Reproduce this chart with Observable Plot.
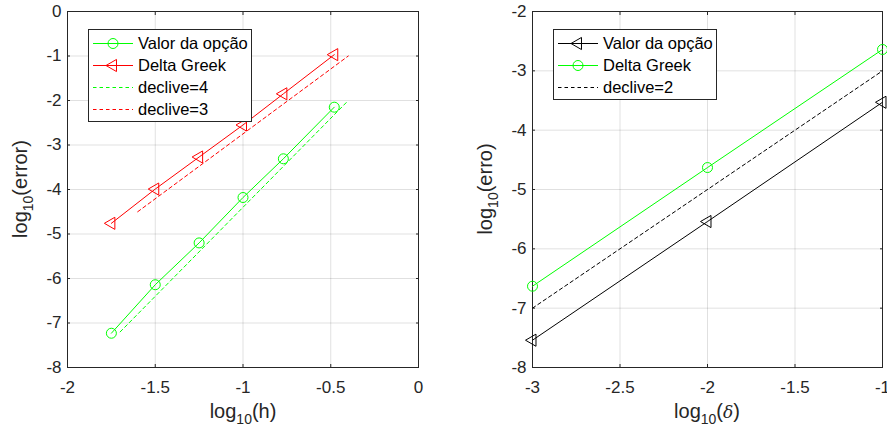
<!DOCTYPE html>
<html>
<head>
<meta charset="utf-8">
<script src="https://cdn.jsdelivr.net/npm/d3@7"></script>
<script src="https://cdn.jsdelivr.net/npm/@observablehq/plot@0.6"></script>
<style>
  html, body { margin: 0; padding: 0; background: #fff; }
  #wrap { display: flex; width: 887px; height: 430px; overflow: hidden; position: relative; }
  .panel { position: relative; }
  .legend { position: absolute; }
</style>
</head>
<body>
<div id="wrap"></div>
<script>
// ---------- Data ----------
// Left panel: log10(h) vs log10(error)
const hX = [-1.75, -1.5, -1.25, -1.0, -0.77, -0.48];
const valorOpcaoH = [-7.23, -6.14, -5.2, -4.18, -3.31, -2.15];
const deltaGreekH = [-4.76, -3.99, -3.27, -2.55, -1.85, -0.97];
const slope4X = [-1.7, -0.4];
const slope4Y = [-7.2, -2.0];
const slope3X = [-1.6, -0.4];
const slope3Y = [-4.5, -1.0];
const leftXTicks = [-2, -1.5, -1, -0.5, 0];
const leftYTicks = [-8, -7, -6, -5, -4, -3, -2, -1, 0];

// Right panel: log10(delta) vs log10(erro)
const dX = [-3, -2, -1];
const valorOpcaoD = [-7.54, -5.54, -3.53];
const deltaGreekD = [-6.63, -4.63, -2.64];
const slope2X = [-3, -1];
const slope2Y = [-7, -3];
const rightXTicks = [-3, -2.5, -2, -1.5, -1];
const rightYTicks = [-8, -7, -6, -5, -4, -3, -2];

const GREEN = "#00ff00", RED = "#ff0000", BLACK = "#000000";
const FONT = "'Liberation Sans', Arial, Helvetica, sans-serif";
const TICK_FONT = 17;
const toRows = (xs, ys) => xs.map((x, i) => ({x, y: ys[i]}));

function fmt(d) { return d === 0 ? "0" : String(d).replace("−", "-"); }

function axesMarks(xTicks, yTicks) {
  return [
    Plot.gridX(xTicks, {stroke: "#000", strokeOpacity: 0.12}),
    Plot.gridY(yTicks, {stroke: "#000", strokeOpacity: 0.12}),
    Plot.axisX(xTicks, {anchor: "bottom", tickSize: -3, tickPadding: 16, tickFormat: fmt, label: null, stroke: "#262626", fill: "#262626", fontSize: TICK_FONT}),
    Plot.axisX(xTicks, {anchor: "top", tickSize: -3, tickFormat: () => "", label: null, stroke: "#262626"}),
    Plot.axisY(yTicks, {anchor: "left", tickSize: -3, tickPadding: 9, tickFormat: fmt, label: null, stroke: "#262626", fill: "#262626", fontSize: TICK_FONT}),
    Plot.axisY(yTicks, {anchor: "right", tickSize: -3, tickFormat: () => "", label: null, stroke: "#262626"}),
    Plot.frame({stroke: "#262626", strokeWidth: 1})
  ];
}

function styleTicks(svg) {
  d3.select(svg).selectAll('g[aria-label$="tick label"]')
    .attr("font-size", TICK_FONT)
    .style("font-size", TICK_FONT + "px")
    .style("font-family", FONT);
}

function addLabel(svg, x, y, base, sub, tail, rotate, italicTail) {
  const t = d3.select(svg).append("text")
    .attr("transform", `translate(${x},${y})` + (rotate ? " rotate(-90)" : ""))
    .attr("text-anchor", "middle")
    .attr("font-family", FONT)
    .style("font-size", "20px")
    .attr("fill", "#262626");
  t.append("tspan").text(base);
  t.append("tspan").style("font-size", "14px").attr("dy", 6).text(sub);
  if (italicTail) {
    t.append("tspan").attr("dy", -6).text("(");
    t.append("tspan").attr("font-style", "italic").attr("font-family", "'DejaVu Serif', serif").style("font-size", "17px").text(italicTail);
    t.append("tspan").text(")");
  } else {
    t.append("tspan").attr("dy", -6).text(tail);
  }
}

function makeLegend(panel, left, top, w, h, items) {
  const svg = d3.select(panel).append("svg")
    .attr("class", "legend")
    .style("left", left + "px").style("top", top + "px")
    .attr("width", w + 2).attr("height", h + 2);
  svg.append("rect").attr("x", 0.5).attr("y", 0.5).attr("width", w).attr("height", h)
    .attr("fill", "#fff").attr("stroke", "#262626").attr("stroke-width", 1);
  items.forEach((it, i) => {
    const cy = 14.5 + i * 22;
    svg.append("line").attr("x1", 5).attr("x2", 45).attr("y1", cy).attr("y2", cy)
      .style("stroke", it.color).style("stroke-width", "1px")
      .style("stroke-dasharray", it.dash ? "3.5,3" : "none");
    if (it.symbol === "circle") {
      svg.append("circle").attr("cx", 25).attr("cy", cy).attr("r", 5)
        .attr("fill", "none").style("stroke", it.color);
    } else if (it.symbol === "triangle") {
      svg.append("path")
        .attr("d", d3.symbol(d3.symbolTriangle, 4.5 * 4.5 * Math.PI)())
        .attr("transform", `translate(25,${cy}) rotate(-90)`)
        .attr("fill", "none").style("stroke", it.color);
    }
    svg.append("text").attr("x", 50).attr("y", cy).attr("dy", "0.36em")
      .attr("font-family", FONT).style("font-size", "16.5px").attr("fill", "#000")
      .text(it.label);
  });
}

const wrap = document.getElementById("wrap");

// ---------- Left panel ----------
const leftPanel = document.createElement("div");
leftPanel.className = "panel";
wrap.appendChild(leftPanel);
const left = Plot.plot({
  width: 440, height: 430,
  marginLeft: 67, marginRight: 22, marginTop: 11, marginBottom: 63,
  style: {fontFamily: FONT, fontSize: TICK_FONT + "px", background: "#fff", overflow: "visible"},
  x: {domain: [-2, 0]},
  y: {domain: [-8, 0]},
  marks: [
    ...axesMarks(leftXTicks, leftYTicks),
    Plot.line(toRows(slope4X, slope4Y), {x: "x", y: "y", stroke: GREEN, strokeWidth: 1, strokeDasharray: "3.5,3"}),
    Plot.line(toRows(slope3X, slope3Y), {x: "x", y: "y", stroke: RED, strokeWidth: 1, strokeDasharray: "3.5,3"}),
    Plot.line(toRows(hX, valorOpcaoH), {x: "x", y: "y", stroke: GREEN, strokeWidth: 1}),
    Plot.dot(toRows(hX, valorOpcaoH), {x: "x", y: "y", r: 5, stroke: GREEN, fill: "none", strokeWidth: 1}),
    Plot.line(toRows(hX, deltaGreekH), {x: "x", y: "y", stroke: RED, strokeWidth: 1}),
    Plot.dot(toRows(hX, deltaGreekH), {x: "x", y: "y", r: 4.5, symbol: "triangle", rotate: -90, stroke: RED, fill: "none", strokeWidth: 1})
  ]
});
leftPanel.appendChild(left);
styleTicks(left);
addLabel(left, 243, 418, "log", "10", "(h)", false);
addLabel(left, 27, 189, "log", "10", "(error)", true);
makeLegend(leftPanel, 88, 29, 163, 92, [
  {label: "Valor da opção", color: GREEN, symbol: "circle"},
  {label: "Delta Greek", color: RED, symbol: "triangle"},
  {label: "declive=4", color: GREEN, dash: true},
  {label: "declive=3", color: RED, dash: true}
]);

// ---------- Right panel ----------
const rightPanel = document.createElement("div");
rightPanel.className = "panel";
wrap.appendChild(rightPanel);
const right = Plot.plot({
  width: 447, height: 430,
  marginLeft: 92, marginRight: 5, marginTop: 11, marginBottom: 63,
  style: {fontFamily: FONT, fontSize: TICK_FONT + "px", background: "#fff", overflow: "visible"},
  x: {domain: [-3, -1]},
  y: {domain: [-8, -2]},
  marks: [
    ...axesMarks(rightXTicks, rightYTicks),
    Plot.line(toRows(slope2X, slope2Y), {x: "x", y: "y", stroke: BLACK, strokeWidth: 1, strokeDasharray: "3.5,3"}),
    Plot.line(toRows(dX, valorOpcaoD), {x: "x", y: "y", stroke: BLACK, strokeWidth: 1}),
    Plot.dot(toRows(dX, valorOpcaoD), {x: "x", y: "y", r: 4.5, symbol: "triangle", rotate: -90, stroke: BLACK, fill: "none", strokeWidth: 1}),
    Plot.line(toRows(dX, deltaGreekD), {x: "x", y: "y", stroke: GREEN, strokeWidth: 1}),
    Plot.dot(toRows(dX, deltaGreekD), {x: "x", y: "y", r: 5, stroke: GREEN, fill: "none", strokeWidth: 1})
  ]
});
rightPanel.appendChild(right);
styleTicks(right);
addLabel(right, 267, 418, "log", "10", "", false, "δ");
addLabel(right, 52, 189, "log", "10", "(erro)", true);
makeLegend(rightPanel, 113, 29, 163, 70, [
  {label: "Valor da opção", color: BLACK, symbol: "triangle"},
  {label: "Delta Greek", color: GREEN, symbol: "circle"},
  {label: "declive=2", color: BLACK, dash: true}
]);
</script>
</body>
</html>
